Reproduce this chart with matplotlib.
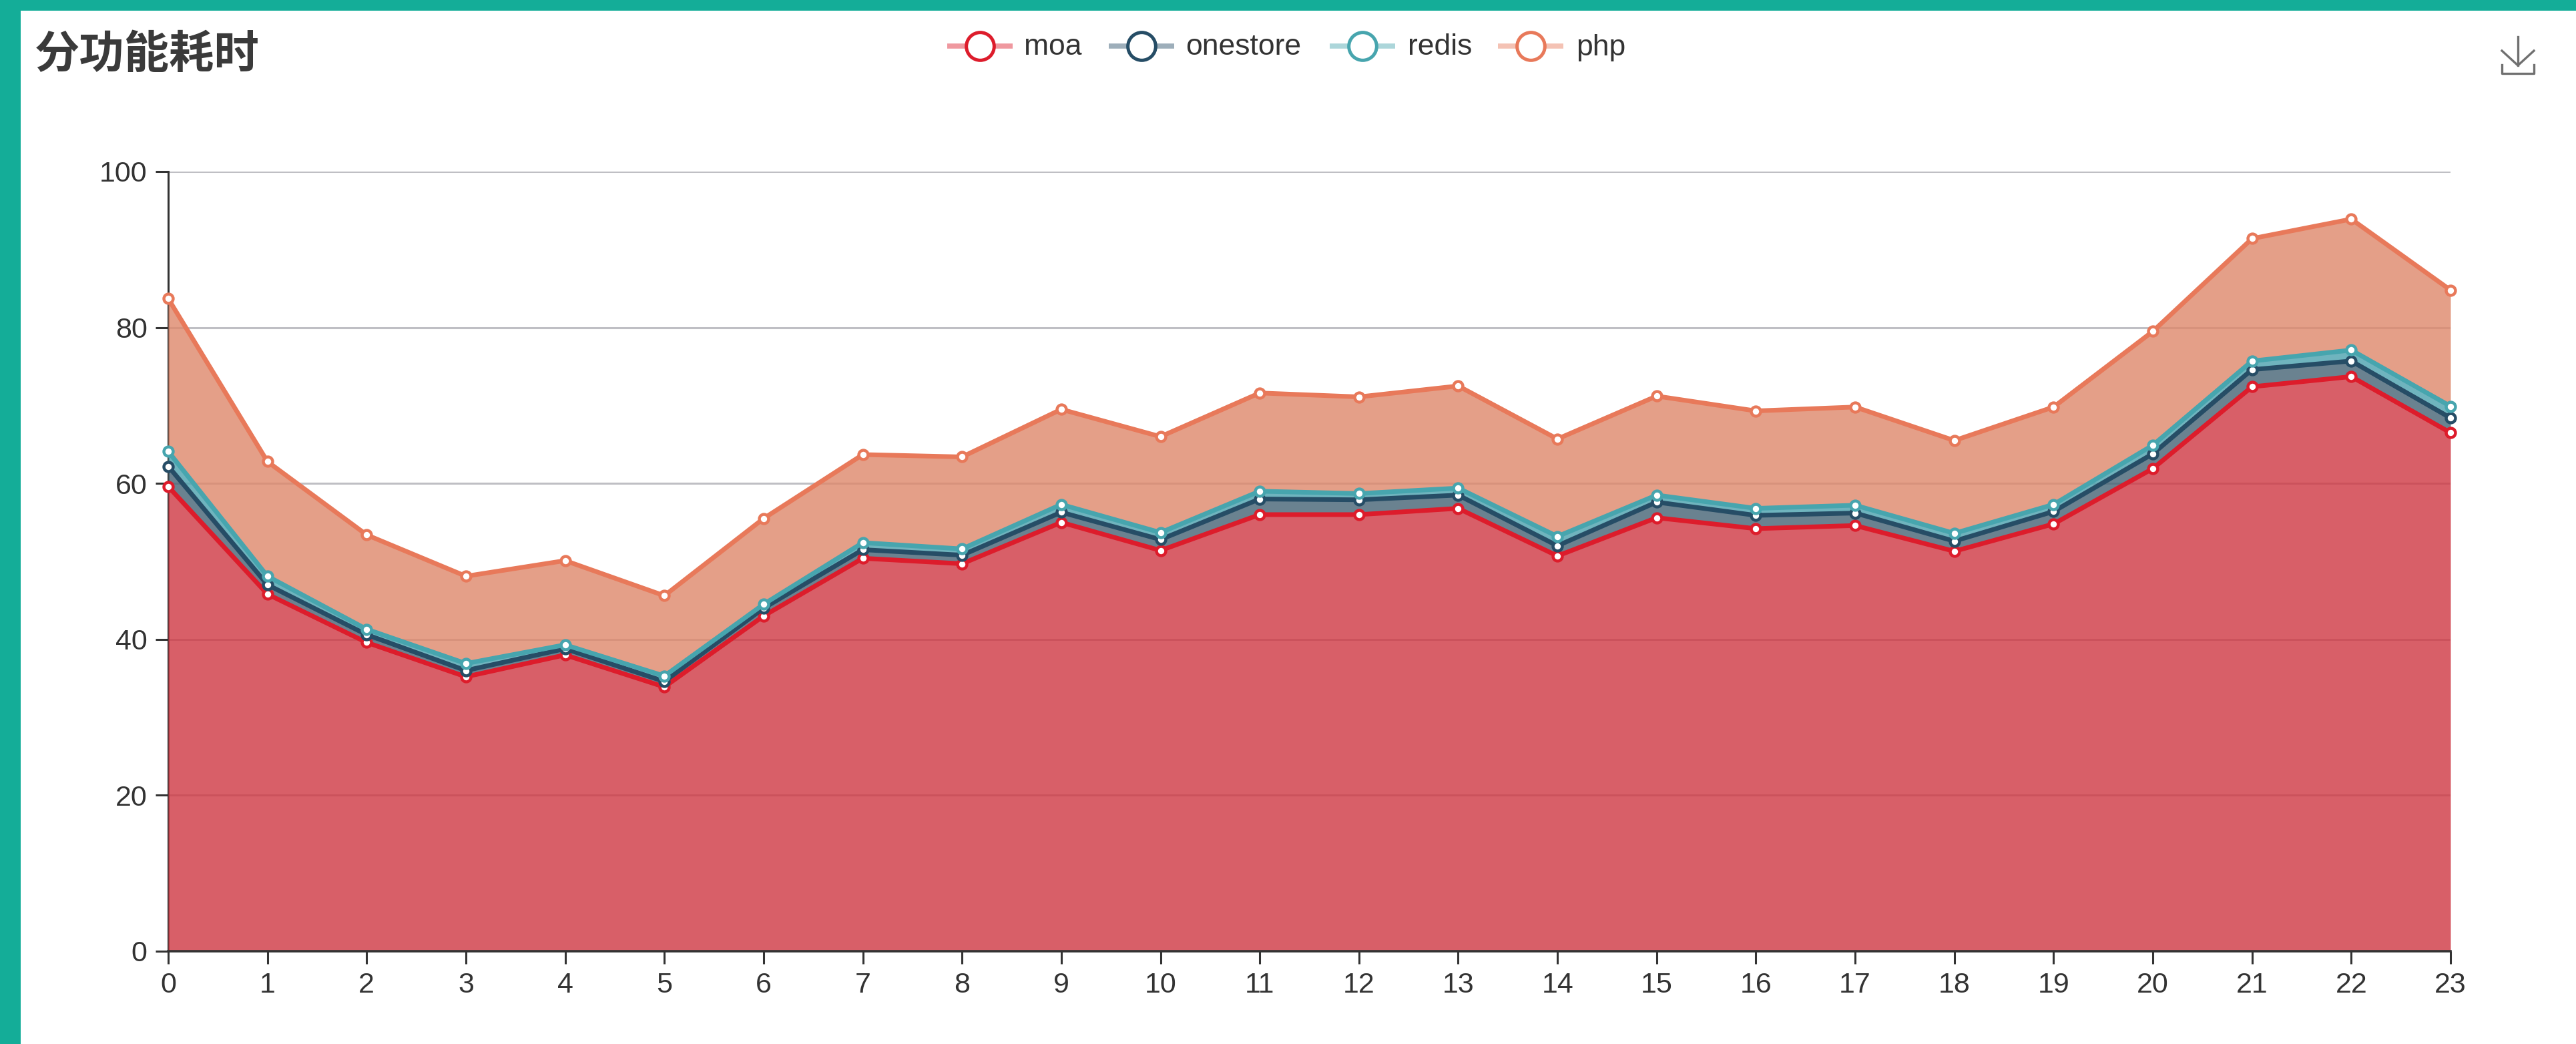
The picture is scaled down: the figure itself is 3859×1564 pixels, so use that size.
import matplotlib
matplotlib.use('Agg')
import matplotlib.pyplot as plt
from matplotlib.patches import Rectangle

plt.rcParams['font.family'] = ['Liberation Sans', 'DejaVu Sans']

W, H = 3859, 1564

# Values: top of each stacked band
hours = list(range(24))
moa = [59.6, 45.8, 39.6, 35.2, 38.0, 33.9, 43.0, 50.4, 49.7, 55.0, 51.4, 56.0,
       56.0, 56.8, 50.7, 55.6, 54.2, 54.6, 51.3, 54.8, 61.9, 72.4, 73.7, 66.5]
onestore = [62.2, 47.0, 40.6, 36.0, 38.8, 34.6, 44.0, 51.5, 50.8, 56.3, 52.8, 58.0,
            57.9, 58.5, 52.0, 57.6, 55.9, 56.2, 52.6, 56.4, 63.8, 74.6, 75.7, 68.4]
redis = [64.1, 48.1, 41.3, 36.9, 39.3, 35.3, 44.5, 52.4, 51.6, 57.3, 53.7, 59.0,
         58.7, 59.4, 53.2, 58.5, 56.8, 57.2, 53.6, 57.3, 64.9, 75.7, 77.1, 69.9]
php = [83.7, 62.8, 53.4, 48.1, 50.1, 45.6, 55.5, 63.7, 63.4, 69.5, 66.0, 71.6,
       71.1, 72.5, 65.7, 71.2, 69.3, 69.8, 65.5, 69.8, 79.5, 91.4, 93.9, 84.8]
y_ticks = [0, 20, 40, 60, 80, 100]

names = ['moa', 'onestore', 'redis', 'php']
levels = [moa, onestore, redis, php]
line_colors = ['#DD1C2B', '#264D66', '#47A5AE', '#E8795A']
fill_colors = ['#CF3742', '#456374', '#4BA2AE', '#DE876A']

fig = plt.figure(figsize=(W / 100, H / 100), dpi=100, facecolor='white')

# page layer in pixel coordinates: border, title, legend, download icon
page = fig.add_axes([0, 0, 1, 1])
page.set_xlim(0, W)
page.set_ylim(H, 0)
page.axis('off')
page.add_patch(Rectangle((0, 0), W, 16, color='#14AD98', lw=0))
page.add_patch(Rectangle((0, 0), 31, H, color='#14AD98', lw=0))
page.text(52, 83, '分功能耗时', fontsize=48.5, fontweight='bold', color='#3A3A3A',
          family=['Noto Sans CJK SC', 'DejaVu Sans'], ha='left', va='center')

legend_x = [1468, 1710, 2041, 2293]
label_x = [1534, 1776, 2109, 2361]
for i in range(4):
    page.plot([legend_x[i] - 49, legend_x[i] + 49], [69, 69], color=line_colors[i],
              lw=5.5, alpha=0.45, solid_capstyle='butt')
    page.plot(legend_x[i], 69, 'o', ms=30, mfc='white', mec=line_colors[i], mew=3.6)
    page.text(label_x[i], 71, names[i], fontsize=32, color='#333333', ha='left', va='center')

icon = '#707070'
page.plot([3772, 3772], [55, 98], color=icon, lw=2.4)
page.plot([3748, 3772, 3796], [76, 98, 76], color=icon, lw=2.4)
page.plot([3748, 3748, 3796, 3796], [97, 110, 110, 97], color=icon, lw=2.4)

# chart
left, right, top, bottom = 252, 3671, 257, 1425
ax = fig.add_axes([left / W, 1 - bottom / H, (right - left) / W, (bottom - top) / H])
ax.patch.set_alpha(0)
ax.set_xlim(0, 23)
ax.set_ylim(0, 100)

ax.set_axisbelow(True)
ax.yaxis.grid(True, color='#BFBFC4', lw=2.2)
ax.xaxis.grid(False)

lower = [0] * 24
for i in range(4):
    ax.fill_between(hours, lower, levels[i], color=fill_colors[i], alpha=0.8, lw=0, zorder=3)
    lower = levels[i]
for i in range(4):
    ax.plot(hours, levels[i], color=line_colors[i], lw=5, zorder=4, clip_on=False,
            marker='o', ms=10, mfc='white', mec=line_colors[i], mew=3.2)

for side in ['top', 'right']:
    ax.spines[side].set_visible(False)
ax.spines['left'].set_color('#333333')
ax.spines['left'].set_linewidth(2.2)
ax.spines['left'].set_zorder(2)
ax.spines['bottom'].set_color('#333333')
ax.spines['bottom'].set_linewidth(2.6)
ax.spines['bottom'].set_zorder(5)

ax.set_xticks(hours)
ax.set_yticks(y_ticks)
ax.tick_params(axis='both', length=13.5, width=2.2, color='#333333', labelcolor='#333333',
               labelsize=31)
ax.tick_params(axis='x', pad=9)
ax.tick_params(axis='y', pad=9)

fig.savefig('out.png', dpi=100)
